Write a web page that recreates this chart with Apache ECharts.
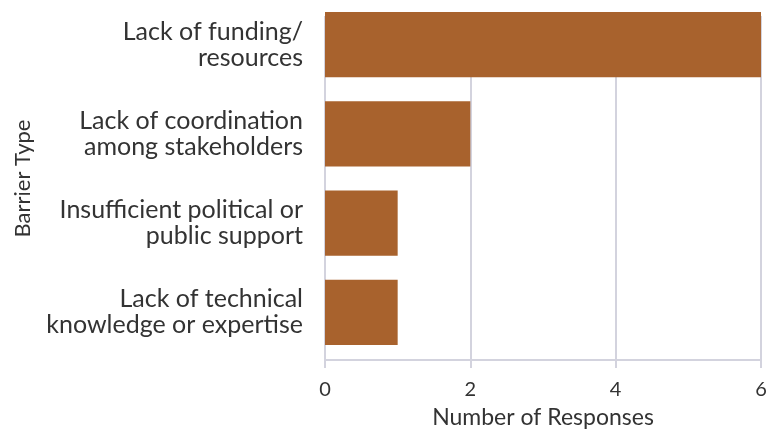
<!DOCTYPE html>
<html>
<head>
<meta charset="utf-8">
<script src="https://cdn.jsdelivr.net/npm/echarts@6/dist/echarts.min.js"></script>
<style>
  html, body { margin: 0; padding: 0; background: #fff; }
  #chart { width: 775px; height: 434px; }
</style>
</head>
<body>
<div id="chart"></div>
<script>
// Survey responses by barrier type
const barrierTypes = [
  'Lack of funding/\nresources',
  'Lack of coordination\namong stakeholders',
  'Insufficient political or\npublic support',
  'Lack of technical\nknowledge or expertise'
];
const responseCounts = [6, 2, 1, 1];
const xTicks = { min: 0, max: 6, interval: 2 };

const FONT = 'Lato';
const TEXT = '#333333';
const GRID = '#d3d3de';
const BAR = '#a8622d';

const chart = echarts.init(document.getElementById('chart'), null, { renderer: 'canvas' });

chart.setOption({
  backgroundColor: '#ffffff',
  animation: false,
  textStyle: { fontFamily: FONT },
  grid: [
    // bars and category labels
    { left: 325, right: 14, top: -1, bottom: 77 },
    // value axis with its grid lines
    { left: 325, right: 14, top: 16, bottom: 69 }
  ],
  xAxis: [
    {
      gridIndex: 0, type: 'value',
      min: xTicks.min, max: xTicks.max, interval: xTicks.interval,
      axisLine: { show: false }, axisTick: { show: false },
      axisLabel: { show: false }, splitLine: { show: false }
    },
    {
      gridIndex: 1, type: 'value',
      min: xTicks.min, max: xTicks.max, interval: xTicks.interval,
      axisLine: { show: true, lineStyle: { color: GRID, width: 2 } },
      axisTick: { show: true, length: 8, lineStyle: { color: GRID, width: 2 } },
      splitLine: { show: true, lineStyle: { color: GRID, width: 2 } },
      axisLabel: { color: TEXT, fontSize: 20, margin: 20, fontFamily: FONT },
      name: 'Number of Responses',
      nameLocation: 'middle',
      nameGap: 46,
      nameTextStyle: { color: TEXT, fontSize: 23, fontFamily: FONT }
    }
  ],
  yAxis: [
    {
      gridIndex: 0, type: 'category', inverse: true,
      data: barrierTypes,
      axisLine: { show: false }, axisTick: { show: false },
      axisLabel: { color: TEXT, fontSize: 25, lineHeight: 26, margin: 22, align: 'right', fontFamily: FONT },
      name: 'Barrier Type',
      nameLocation: 'middle',
      nameGap: 291,
      nameRotate: 90,
      nameTextStyle: { color: TEXT, fontSize: 22, fontFamily: FONT }
    },
    {
      gridIndex: 1, type: 'category', data: barrierTypes,
      show: false
    }
  ],
  series: [
    {
      type: 'bar',
      xAxisIndex: 0, yAxisIndex: 0,
      data: responseCounts,
      barCategoryGap: '27%',
      itemStyle: { color: BAR },
      z: 3
    }
  ]
});
</script>
</body>
</html>
